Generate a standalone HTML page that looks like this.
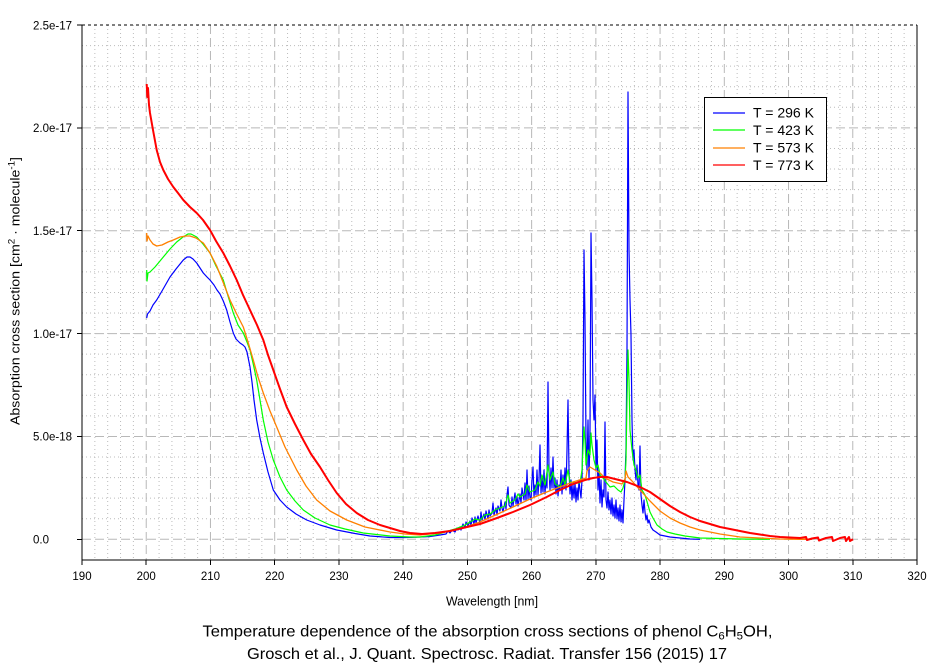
<!DOCTYPE html>
<html><head><meta charset="utf-8"><style>
html,body{margin:0;padding:0;background:#fff;}
svg{display:block;font-family:"Liberation Sans",Arial,sans-serif;}
</style></head><body>
<svg width="942" height="666" viewBox="0 0 942 666" xmlns="http://www.w3.org/2000/svg">
<rect width="942" height="666" fill="#fff"/>
<!-- minor grid -->
<path stroke="#bcbcbc" stroke-width="1" stroke-dasharray="1 3" fill="none" d="
M94.85 25V560M107.69 25V560M120.54 25V560M133.38 25V560
M159.08 25V560M171.92 25V560M184.77 25V560M197.62 25V560
M223.31 25V560M236.15 25V560M249 25V560M261.85 25V560
M287.54 25V560M300.38 25V560M313.23 25V560M326.08 25V560
M351.77 25V560M364.62 25V560M377.46 25V560M390.31 25V560
M416 25V560M428.85 25V560M441.69 25V560M454.54 25V560
M480.23 25V560M493.08 25V560M505.92 25V560M518.77 25V560
M544.46 25V560M557.31 25V560M570.15 25V560M583 25V560
M608.69 25V560M621.54 25V560M634.38 25V560M647.23 25V560
M672.92 25V560M685.77 25V560M698.62 25V560M711.46 25V560
M737.15 25V560M750 25V560M762.85 25V560M775.69 25V560
M801.38 25V560M814.23 25V560M827.08 25V560M839.92 25V560
M865.62 25V560M878.46 25V560M891.31 25V560M904.15 25V560
M82 518.73H917M82 498.16H917M82 477.59H917M82 457.02H917
M82 415.87H917M82 395.3H917M82 374.73H917M82 354.16H917
M82 313.01H917M82 292.44H917M82 271.87H917M82 251.3H917
M82 210.15H917M82 189.58H917M82 169.01H917M82 148.44H917
M82 107.29H917M82 86.72H917M82 66.15H917M82 45.58H917"/>
<!-- major grid -->
<path stroke="#b8b8b8" stroke-width="1" stroke-dasharray="9 4" fill="none" d="
M146.23 25V560M210.46 25V560M274.69 25V560M338.92 25V560M403.15 25V560M467.38 25V560
M531.62 25V560M595.85 25V560M660.08 25V560M724.31 25V560M788.54 25V560M852.77 25V560
M82 539.3H917M82 436.44H917M82 333.58H917M82 230.72H917M82 127.86H917"/>

<!-- blue 296K -->
<polyline fill="none" stroke="#0000ff" stroke-width="1.2" stroke-linejoin="round" points="146.7,318 147.5,314 150,311 153,305 156.7,300 162,291 166,284 170,277 176,269 183.3,260 187,257 190,257 193,259 196.7,263 200,268 203.3,273 207,277 210,280 214,285 217,290 220,294 223.3,301 226.7,310 230,322 233.3,333 236,339 240,343 243,345 245,347 247,352 250,367 252,382 254,400 256.7,420 260,438 263.3,453 268,472 273.3,490 280,500 286.7,507 296,514 306.7,520 320,525 336.7,530 355,533.5 370,536 390,537.5 405,537.5 420,537 430,536.5 440,535 446,534 448,531 450,533 452,530 455,532 457,528 458,530 460,527 461,530 463,524 465,528 466,522 468,526 470,521 471,526 472,518 474,524 475,517 476,523 478,516 480,523 481,512 482,520 484,514 485,520 486,511 488,519 489,510 490,516 492,513 493,503 494,515 496,508 497,515 498,506 500,511 501,500 502,508 503,512 505,502 506,509 507,495 508,487 509,505 511,508 512,497 513,506 515,493 516,504 517,496 518,506 520,494 521,503 522,488 524,500 525,483 526,501 527,470 528,499 529,486 530,498 531,500 532,480 533,467 534,497 535,485 536,495 537,470 538,495 539,480 540,445 541,493 542,478 543,492 544,470 545,494 546,478 547,488 548,382 549,470 550,490 551,468 552,488 553,457 554,488 555,478 556,494 557,480 558,496 559,485 560,490 561,470 562,494 563,475 564,488 565,468 566,490 567,450 568,400 569,470 570,494 571,480 572,500 573,485 574,498 575,483 576,502 577,488 578,500 579,480 580,490 581,498 582,480 583,420 584,250 585,320 586,440 587,470 588,420 589,480 590,430 591,233 592,300 593,400 594,420 595,395 596,470 597,440 598,490 599,470 600,503 601,480 602,507 603,490 604,497 605,422 606,500 607,508 608,492 609,510 610,500 611,514 612,498 613,516 614,505 615,518 616,500 617,519 618,508 619,521 620,505 621,522 622,510 623,523 624,500 625,480 626,448 627,350 628,92 629,250 630,300 631,335 632,420 633,460 634,450 635,470 636,480 637,465 638,485 639,490 640,446 641,495 642,505 643,513 644,500 645,512 646,520 647,515 648,523 649,520 651,527 653,530 656,532 660,535 665,536 670,537 680,538 690,539 700,539.3"/>

<!-- green 423K -->
<polyline fill="none" stroke="#00ff00" stroke-width="1.2" stroke-linejoin="round" points="146.7,270 147,281 148,273 150,272 155,267 160,261 163.3,257 170,249 176.7,242 183,237 188,234 191,234 196.7,237 203,244 210,253 216,266 223.3,280 228,296 233.3,313 238,325 243.3,333 247,342 250,350 253,363 256.7,380 260,400 263.3,420 268,442 273.3,460 280,477 286.7,490 295,501 303.3,510 315,518 330,525 345,529 363.3,533 390,536 410,537 420,537 435,535 445,532 455,529 465,525 475,519 480,520 485,515 490,514 495,510 500,508 505,506 508,495 510,503 515,500 518,494 520,497 525,494 527,485 530,492 535,490 538,482 540,486 542,475 545,485 548,465 550,480 553,472 555,484 560,487 563,478 565,485 568,470 570,482 575,483 580,483 582,470 584,427 585,440 586,465 588,450 590,455 591,433 592,445 594,460 596,468 598,465 600,475 603,478 606,482 610,487 614,486 618,490 621,492 623,488 625,480 626,460 627,400 628,350 629,380 630,430 632,450 634,465 636,470 638,478 640,475 642,490 645,495 648,505 650,512 653,518 657,525 662,529 667,532 675,534 685,536 700,538 720,538.5 740,539 770,539.3"/>

<!-- orange 573K -->
<polyline fill="none" stroke="#ff8000" stroke-width="1.3" stroke-linejoin="round" points="146.7,233 147,241 148,236 150,240 153,244 156.7,246 162,245 168,242 173.3,240 180,237 186,236 190,236 196,238 203.3,243 210,253 216.7,266 223,282 230,300 236.7,314 243.3,327 248,342 253.3,360 258,377 263.3,393 270,411 276.7,427 285,447 296.7,470 306,486 316.7,500 330,511 346.7,520 365,527 390,532 405,534 420,535 440,533 460,529 480,522 500,513 513,507 530,499 546.7,492 560,487 573,482 586,478 587,471 590,467 595,470 600,473 605,478 613,482 622,484 625,479 626,471 628,477 632,481 640,490 650,501 660,511 670,518 680,523 690,527 700,530 720,534 740,537 760,538 780,539 800,539.3 812,539.3"/>

<!-- red 773K -->
<polyline fill="none" stroke="#ff0000" stroke-width="2" stroke-linejoin="round" points="146.7,84 147.3,97 148,88 149,105 150,113 153,130 156.7,150 160,162 163.3,170 168,179 173.3,187 178,193 183.3,200 190,207 196.7,213 203,220 210,230 216,241 223.3,253 230,266 236.7,280 243,295 250,310 257,325 263.3,340 268,355 273.3,370 280,389 286.7,407 295,424 303.3,440 311,454 320,467 328,480 336.7,493 346,504 356.7,513 368,520 380,525 390,528 400,531 410,533 422,534 435,533 450,531 467,527 480,524 497,518 513,512 530,505 546.7,497 560,490 573,484 585,480 593,478 600,477 607,477 615,479 627,482 640,487 650,492 660,499 670,506 680,512 690,517 700,521 710,524 720,527 730,529 740,531 750,533 760,534.5 770,536 780,537 790,537.5 800,538 806,537 807,540 812,538.5 818,537.5 819,540.5 826,538 832,537 833,541 840,538 845,537 846,541 849,537 850,541 853,539.3"/>

<!-- axes -->
<g stroke="#000" stroke-width="1" fill="none" shape-rendering="crispEdges">
<path d="M82 25V560H917V25"/>
<path d="M82 25H917" stroke-dasharray="3 3"/>
<path d="M77 539.3H82M77 436.44H82M77 333.58H82M77 230.72H82M77 127.86H82M77 25H82"/>
<path d="M82 560V565M146.23 560V565M210.46 560V565M274.69 560V565M338.92 560V565M403.15 560V565M467.38 560V565M531.62 560V565M595.85 560V565M660.08 560V565M724.31 560V565M788.54 560V565M852.77 560V565M917 560V565"/>
</g>

<!-- y tick labels -->
<g font-size="11.5" fill="#000">
<text x="33" y="29.3">2.5e-17</text>
<text x="33" y="132.2">2.0e-17</text>
<text x="33" y="235">1.5e-17</text>
<text x="33" y="337.9">1.0e-17</text>
<text x="33" y="440.7">5.0e-18</text>
<text x="33" y="543.6">0.0</text>
</g>
<!-- x tick labels -->
<g font-size="11.5" fill="#000" text-anchor="middle">
<text x="82" y="580">190</text>
<text x="146.23" y="580">200</text>
<text x="210.46" y="580">210</text>
<text x="274.69" y="580">220</text>
<text x="338.92" y="580">230</text>
<text x="403.15" y="580">240</text>
<text x="467.38" y="580">250</text>
<text x="531.62" y="580">260</text>
<text x="595.85" y="580">270</text>
<text x="660.08" y="580">280</text>
<text x="724.31" y="580">290</text>
<text x="788.54" y="580">300</text>
<text x="852.77" y="580">310</text>
<text x="917" y="580">320</text>
</g>

<!-- axis titles -->
<text x="446" y="605.7" font-size="13" textLength="92" lengthAdjust="spacingAndGlyphs">Wavelength [nm]</text>
<text transform="translate(19.5,425) rotate(-90)" font-size="13" textLength="268" lengthAdjust="spacingAndGlyphs">Absorption cross section [cm<tspan font-size="9" dy="-5">2</tspan><tspan dy="5"> · molecule</tspan><tspan font-size="9" dy="-5">-1</tspan><tspan dy="5">]</tspan></text>

<!-- caption -->
<text x="202.5" y="636.7" font-size="16" textLength="570" lengthAdjust="spacingAndGlyphs">Temperature dependence of the absorption cross sections of phenol C<tspan font-size="11" dy="3">6</tspan><tspan dy="-3">H</tspan><tspan font-size="11" dy="3">5</tspan><tspan dy="-3">OH,</tspan></text>
<text x="247" y="659" font-size="16" textLength="480" lengthAdjust="spacingAndGlyphs">Grosch et al., J. Quant. Spectrosc. Radiat. Transfer 156 (2015) 17</text>

<!-- legend -->
<rect x="704.5" y="97.5" width="122" height="84" fill="#fff" stroke="#000" stroke-width="1" shape-rendering="crispEdges"/>
<g stroke-width="1.3">
<line x1="713" y1="113" x2="745" y2="113" stroke="#0000ff"/>
<line x1="713" y1="130" x2="745" y2="130" stroke="#00ff00"/>
<line x1="713" y1="148" x2="745" y2="148" stroke="#ff8000"/>
<line x1="713" y1="165" x2="745" y2="165" stroke="#ff0000"/>
</g>
<g font-size="13.5" fill="#000">
<text x="753" y="117.5" textLength="61" lengthAdjust="spacingAndGlyphs">T = 296 K</text>
<text x="753" y="135" textLength="61" lengthAdjust="spacingAndGlyphs">T = 423 K</text>
<text x="753" y="152.5" textLength="61" lengthAdjust="spacingAndGlyphs">T = 573 K</text>
<text x="753" y="170" textLength="61" lengthAdjust="spacingAndGlyphs">T = 773 K</text>
</g>
</svg>
</body></html>
